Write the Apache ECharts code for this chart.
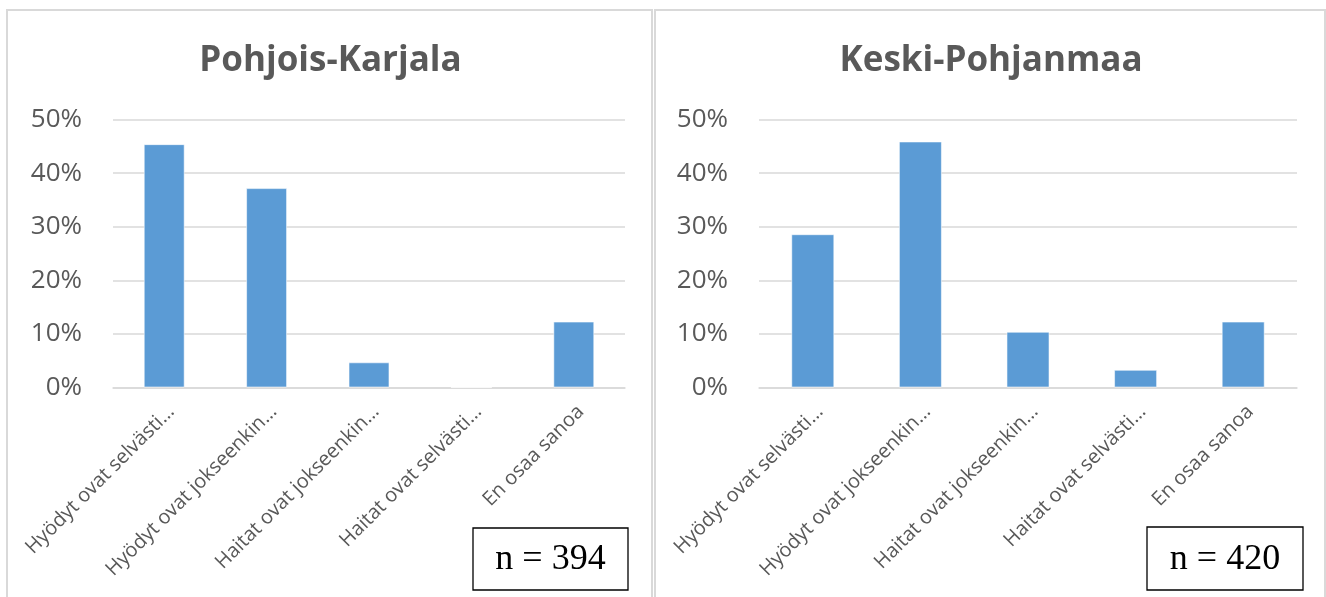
<!DOCTYPE html>
<html>
<head>
<meta charset="utf-8">
<script src="https://cdn.jsdelivr.net/npm/echarts@6/dist/echarts.min.js"></script>
<style>
  html, body { margin: 0; padding: 0; background: #ffffff; }
  #chart { width: 1326px; height: 597px; }
</style>
</head>
<body>
<div id="chart"></div>
<script>
// Answer categories (long labels are shortened with an ellipsis on the axis)
const categories = [
  'Hyödyt ovat selvästi…',
  'Hyödyt ovat jokseenkin…',
  'Haitat ovat jokseenkin…',
  'Haitat ovat selvästi…',
  'En osaa sanoa'
];

// Region names and sample sizes
const regionNames = ['Pohjois-Karjala', 'Keski-Pohjanmaa'];
const sampleSizes = [394, 420];

// Share of respondents per answer, percent
const pohjoisKarjala = [45.4, 37.2, 4.7, 0, 12.3];
const keskiPohjanmaa = [28.6, 45.9, 10.4, 3.3, 12.3];

// Value axis ticks
const yMin = 0, yMax = 50, yStep = 10;

const labelColor = '#595959';
const gridColor = '#d9d9d9';
const barColor = '#5b9bd5';
const sansFont = '"Open Sans", "Noto Sans", sans-serif';

// Panel geometry: [left, right] pixel edges of each framed chart
const panels = [
  { x0: 7, x1: 652, grid: { left: 113, width: 512 } },
  { x0: 655, x1: 1325, grid: { left: 759, width: 538 } }
];
const gridTop = 119.5, gridHeight = 268;

const seriesData = [pohjoisKarjala, keskiPohjanmaa];

const chart = echarts.init(document.getElementById('chart'), null, { renderer: 'canvas' });

const option = {
  animation: false,
  backgroundColor: '#ffffff',
  title: panels.map((p, i) => ({
    text: regionNames[i],
    left: (p.x0 + p.x1) / 2 - 4,
    top: 39,
    textAlign: 'center',
    textStyle: {
      fontFamily: sansFont,
      fontWeight: 'bold',
      fontSize: 35,
      color: labelColor
    }
  })),
  grid: panels.map(p => ({
    left: p.grid.left,
    width: p.grid.width,
    top: gridTop,
    height: gridHeight,
    containLabel: false
  })),
  xAxis: panels.map((p, i) => ({
    type: 'category',
    gridIndex: i,
    data: categories,
    axisLine: { show: true, lineStyle: { color: gridColor, width: 1.5 } },
    axisTick: { show: false },
    axisLabel: {
      interval: 0,
      rotate: 45,
      margin: 14,
      align: 'right',
      verticalAlign: 'top',
      fontFamily: sansFont,
      fontSize: 20,
      color: labelColor
    }
  })),
  yAxis: panels.map((p, i) => ({
    type: 'value',
    gridIndex: i,
    min: yMin,
    max: yMax,
    interval: yStep,
    axisLine: { show: false },
    axisTick: { show: false },
    splitLine: { show: true, lineStyle: { color: gridColor, width: 1.5 } },
    axisLabel: {
      margin: 31,
      fontFamily: sansFont,
      fontSize: 26,
      color: labelColor,
      formatter: v => v + '%'
    }
  })),
  series: seriesData.map((d, i) => ({
    type: 'bar',
    xAxisIndex: i,
    yAxisIndex: i,
    data: d,
    barCategoryGap: '60%',
    itemStyle: {
      color: barColor,
      borderColor: 'rgba(255,255,255,0.55)',
      borderWidth: 1
    }
  })),
  graphic: [
    // Frames around the two charts
    ...panels.map(p => ({
      type: 'rect',
      silent: true,
      shape: { x: p.x0, y: 10, width: p.x1 - p.x0, height: 620 },
      style: { fill: 'none', stroke: gridColor, lineWidth: 2 }
    })),
    // Sample-size boxes
    ...[
      { x: 473, y: 528, w: 155, h: 62 },
      { x: 1147, y: 527, w: 156, h: 63 }
    ].map((b, i) => ({
      type: 'group',
      children: [
        {
          type: 'rect',
          shape: { x: b.x, y: b.y, width: b.w, height: b.h },
          style: { fill: '#ffffff', stroke: '#000000', lineWidth: 1.3 }
        },
        {
          type: 'text',
          x: b.x + b.w / 2,
          y: b.y + b.h / 2 + 1,
          style: {
            text: 'n = ' + sampleSizes[i],
            font: '36px "Liberation Serif", "Times New Roman", serif',
            fill: '#000000',
            align: 'center',
            verticalAlign: 'middle'
          }
        }
      ]
    }))
  ]
};

chart.setOption(option);
</script>
</body>
</html>
